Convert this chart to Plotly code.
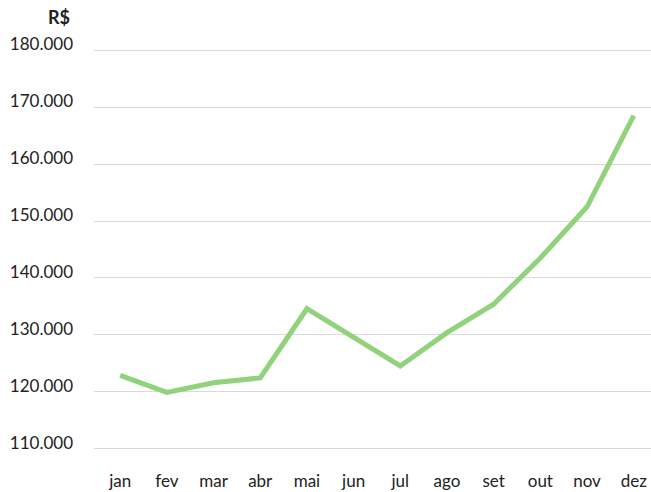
import plotly.graph_objects as go

months = ["jan", "fev", "mar", "abr", "mai", "jun", "jul", "ago", "set", "out", "nov", "dez"]
values = [122900, 119900, 121600, 122450, 134600, 129500, 124550, 130400, 135400, 143500, 152500, 168500]
y_ticks = [110000, 120000, 130000, 140000, 150000, 160000, 170000, 180000]
y_tick_labels = ["110.000", "120.000", "130.000", "140.000", "150.000", "160.000", "170.000", "180.000"]
unit_label = "R$"

font_family = "Lato, 'Noto Sans', sans-serif"
text_color = "#222222"

fig = go.Figure()
fig.add_trace(go.Scatter(
    x=list(range(len(months))),
    y=values,
    mode="lines",
    line=dict(color="#92d27c", width=5),
    hoverinfo="skip",
    showlegend=False,
))

fig.update_layout(
    width=651,
    height=492,
    margin=dict(l=94, r=0, t=49, b=42, autoexpand=False),
    paper_bgcolor="white",
    plot_bgcolor="white",
    font=dict(family=font_family, size=17, color=text_color),
    xaxis=dict(
        tickmode="array",
        tickvals=list(range(len(months))),
        ticktext=months,
        range=[-0.56, 11.37],
        showgrid=False,
        zeroline=False,
        showline=False,
        ticks="",
        ticklabelstandoff=19,
        fixedrange=True,
    ),
    yaxis=dict(
        tickmode="array",
        tickvals=y_ticks,
        ticktext=y_tick_labels,
        range=[109800, 180200],
        showgrid=True,
        gridcolor="#d9d9d9",
        gridwidth=1,
        zeroline=False,
        showline=False,
        ticks="",
        ticklabelstandoff=20,
        ticklabelshift=-6,
        fixedrange=True,
    ),
    annotations=[dict(
        text="<b>" + unit_label + "</b>",
        xref="paper", yref="paper",
        x=0, y=1,
        xanchor="right", yanchor="middle",
        xshift=-22, yshift=32,
        showarrow=False,
        font=dict(family=font_family, size=18, color=text_color),
    )],
)

fig.write_html(
    "out.html",
    config={"displayModeBar": False},
    post_script="document.body.style.margin='0px';document.body.style.padding='0px';",
)
